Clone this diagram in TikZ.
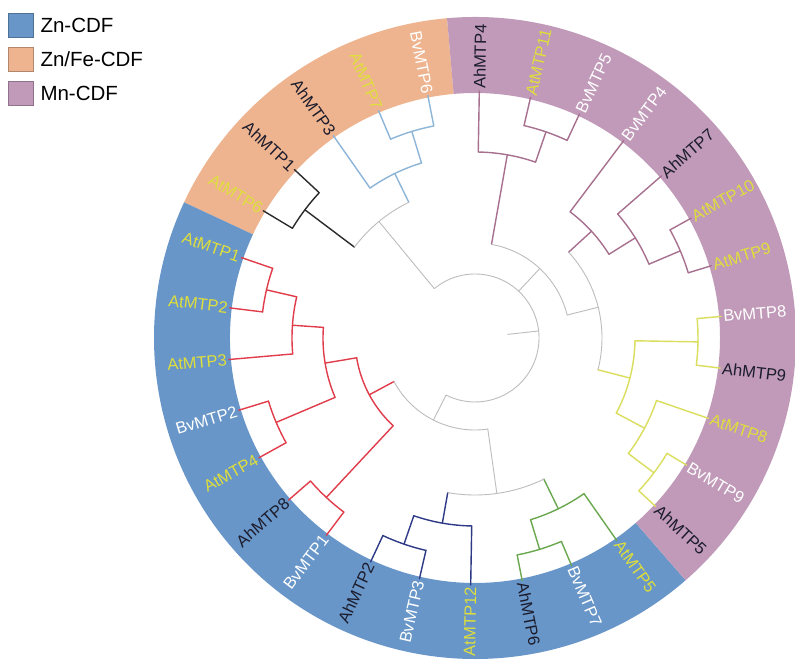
\documentclass[tikz,border=0pt]{standalone}
\usepackage{fontspec}
\setmainfont{Liberation Sans}
\usetikzlibrary{calc}
\usetikzlibrary{positioning}

\definecolor{znfill}{HTML}{6896C8}
\definecolor{fefill}{HTML}{EEB48F}
\definecolor{mnfill}{HTML}{C09AB8}
\definecolor{grline}{HTML}{BDBDBD}
\definecolor{mnline}{HTML}{A7708F}
\definecolor{ylline}{HTML}{DADE5C}
\definecolor{gnline}{HTML}{6AA84F}
\definecolor{nvline}{HTML}{2E3A87}
\definecolor{rdline}{HTML}{E03C4A}
\definecolor{lbline}{HTML}{8DB5D8}
\definecolor{bkline}{HTML}{2B2B2B}
\definecolor{Ahcol}{HTML}{1C1C2C}
\definecolor{Atcol}{HTML}{DEDE3C}
\definecolor{Bvcol}{HTML}{FFFFFF}

\begin{document}
\begin{tikzpicture}[x=1pt, y=1pt,
    leaf/.style={inner sep=0pt, font=\fontsize{16.5}{18}\selectfont},
    legendbox/.style={draw=#1!75!black, fill=#1, line width=0.6pt,
        minimum width=25pt, minimum height=24pt, inner sep=0pt},
    legendtext/.style={inner sep=0pt, font=\fontsize{20.5}{22}\selectfont},
    grbr/.style={draw=grline, line width=0.9pt, line cap=round},
    mnbr/.style={draw=mnline, line width=1.4pt, line cap=round},
    ylbr/.style={draw=ylline, line width=1.4pt, line cap=round},
    gnbr/.style={draw=gnline, line width=1.4pt, line cap=round},
    nvbr/.style={draw=nvline, line width=1.4pt, line cap=round},
    rdbr/.style={draw=rdline, line width=1.4pt, line cap=round},
    lbbr/.style={draw=lbline, line width=1.4pt, line cap=round},
    bkbr/.style={draw=bkline, line width=1.4pt, line cap=round},
]
\useasboundingbox[fill=white] (0,0) rectangle (795,661);
\coordinate (c) at (475,323);

% coloured ring
\foreach \col/\from/\to in {fefill/95/155, znfill/155/311, mnfill/311/455} {
    \fill[\col] ($(c)+(\from:245)$) arc[start angle=\from, end angle=\to, radius=245]
        -- ($(c)+(\to:321)$) arc[start angle=\to, end angle=\from, radius=321] -- cycle;
}

% inner nodes: name/radius/first child/last child/parent radius/style
\foreach \nm/\r/\a/\b/\rp/\br in {
    mA1/218/77/65/186/mnbr, mA/186/89/71/95/mnbr,
    mB1/223/29/17/189/mnbr, mB2/189/41/23/158/mnbr, mB/158/53/32/127/mnbr,
    y1/223/5/-7/160/ylbr, y2/224/-31/-43/192/ylbr, y3/192/-19/-37/160/ylbr,
    y/160/-1/-28/127/ylbr,
    Nb/127/42.5/-14.5/95/grbr, Na/95/80/14/64/grbr,
    g1/221/-67/-79/190/gnbr, g/190/-55/-73/157/gnbr,
    n1/218/-103/-115/188/nvbr, n/188/-91/-109/157/nvbr,
    Y/157/-64/-100/92/grbr,
    r1/214/-187/-199/183/rdbr, r2/183/-175/-193/152/rdbr,
    r3/216/-151/-163/152/rdbr, r4/152/-157/-184/120/rdbr,
    r5/218/-127/-139/120/rdbr, rr/120/-133/-170.5/92/rdbr,
    Ne/92/-82/-151.75/64/grbr,
    b1/216/-247/-259/183/lbbr, b2/183/-235/-253/151/lbbr,
    k1/213/-211/-223/151/bkbr, Nd/151/-217/-244/64/grbr,
    root/64/129.5/-116.875/33/grbr} {
    \pgfmathsetmacro\m{(\a+\b)/2}
    \coordinate (\nm) at ($(c)+(\m:\r)$);
    \draw[\br] ($(c)+(\a:\r)$) arc[start angle=\a, end angle=\b, radius=\r];
    \draw[\br] (\nm) -- ($(c)!{\rp/\r}!(\nm)$);
}

% leaves: index/species/number/parent radius/style
\foreach \k/\sp/\nr/\rp/\br in {
    0/Ah/4/186/mnbr, 1/At/11/218/mnbr, 2/Bv/5/218/mnbr, 3/Bv/4/158/mnbr,
    4/Ah/7/189/mnbr, 5/At/10/223/mnbr, 6/At/9/223/mnbr,
    7/Bv/8/223/ylbr, 8/Ah/9/223/ylbr, 9/At/8/192/ylbr, 10/Bv/9/224/ylbr,
    11/Ah/5/224/ylbr,
    12/At/5/190/gnbr, 13/Bv/7/221/gnbr, 14/Ah/6/221/gnbr,
    15/At/12/188/nvbr, 16/Bv/3/218/nvbr, 17/Ah/2/218/nvbr,
    18/Bv/1/218/rdbr, 19/Ah/8/218/rdbr, 20/At/4/216/rdbr, 21/Bv/2/216/rdbr,
    22/At/3/183/rdbr, 23/At/2/214/rdbr, 24/At/1/214/rdbr,
    25/At/6/213/bkbr, 26/Ah/1/213/bkbr,
    27/Ah/3/183/lbbr, 28/At/7/216/lbbr, 29/Bv/6/216/lbbr} {
    \pgfmathsetmacro\a{89-12*\k}
    \coordinate (t\k) at ($(c)+(\a:247)$);
    \draw[\br] (t\k) -- ($(c)!{\rp/247}!(t\k)$);
    \ifnum\k<15
        \node[leaf, text=\sp col, anchor=west, rotate=\a] (l\k) at ($(c)+(\a:249)$) {\sp MTP\nr};
    \else
        \node[leaf, text=\sp col, anchor=east, rotate=\a+180] (l\k) at ($(c)+(\a:249)$) {\sp MTP\nr};
    \fi
}

% legend
\node[legendbox=znfill] (kzn) at (20.5,636) {};
\node[legendbox=fefill] (kfe) at (20.5,602) {};
\node[legendbox=mnfill] (kmn) at (20.5,568) {};
\node[legendtext, right=7pt of kzn] (tzn) {Zn-CDF};
\node[legendtext, right=7pt of kfe] (tfe) {Zn/Fe-CDF};
\node[legendtext, right=7pt of kmn] (tmn) {Mn-CDF};
\end{tikzpicture}
\end{document}
